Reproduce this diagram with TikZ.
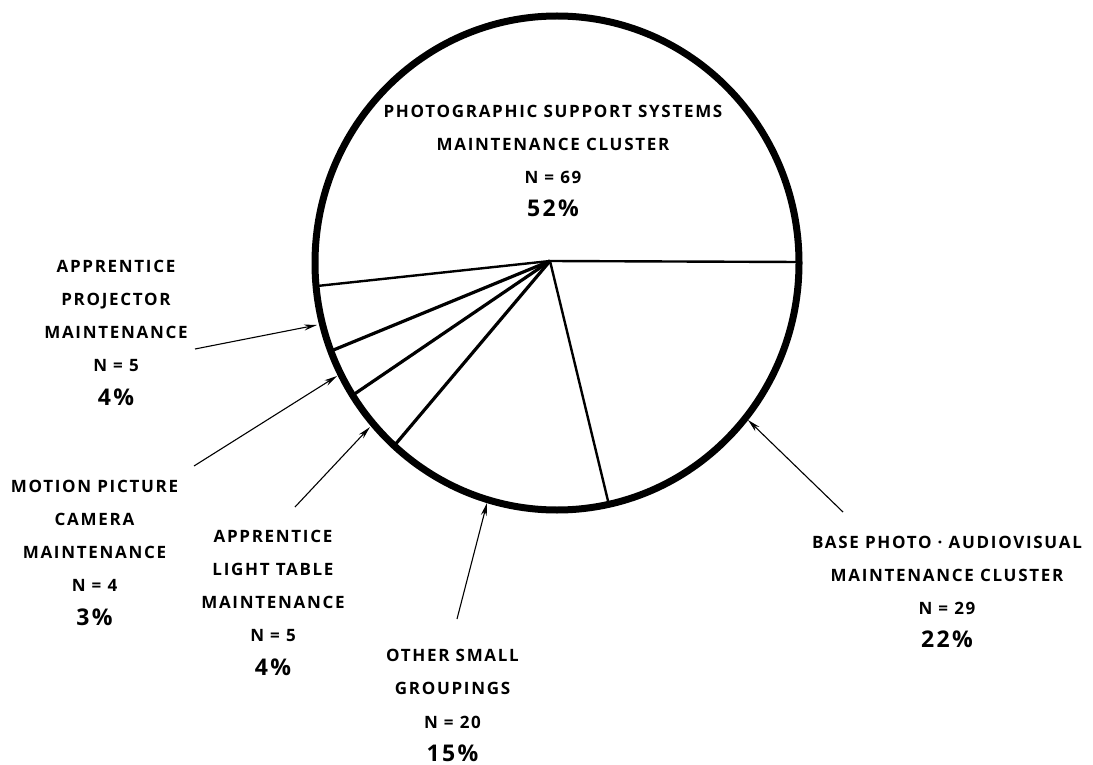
\documentclass[tikz,border=0pt]{standalone}
\usepackage{fontspec}
\setmainfont{Open Sans}[LetterSpace=10]
\usetikzlibrary{arrows.meta}
\newcommand\pctline[1]{{\fontsize{23}{33.3}\selectfont #1}}

\begin{document}
\begin{tikzpicture}[
        x=1pt, y=-1pt,
        every node/.style={font=\fontsize{17}{33.3}\selectfont\bfseries},
        rim/.style={
          draw=black, line width=7pt,
        },
        spoke/.style={
          draw=black, line width=3.2pt,
        },
        thinspoke/.style={
          draw=black, line width=2.4pt,
        },
        pointer/.style={
          -{Stealth[length=13pt,width=6pt]}, draw=black, line width=1.1pt,
        },
        label/.style={
          align=center, anchor=north, inner sep=0pt,
        },
      ]
      \useasboundingbox (0,0) rectangle (1093,765);

      % pie
      \coordinate (ctr) at (557,263);
      \coordinate (hub) at (550,261);
      \coordinate (sBase) at (799,262);
      \coordinate (sOther) at (609,505);
      \coordinate (sLight) at (394,446);
      \coordinate (sCam) at (353,395);
      \coordinate (sProj) at (331,351);
      \coordinate (sPhoto) at (317,286);

      \draw[thinspoke] (hub) -- (sBase);
      \draw[thinspoke] (hub) -- (sOther);
      \draw[spoke] (hub) -- (sLight);
      \draw[spoke] (hub) -- (sCam);
      \draw[spoke] (hub) -- (sProj);
      \draw[thinspoke] (hub) -- (sPhoto);
      \draw[rim] (ctr) ellipse [x radius=242pt, y radius=247pt];

      % labels
      \node[label] (photo) at (553,104.5)
        {PHOTOGRAPHIC SUPPORT SYSTEMS\\MAINTENANCE CLUSTER\\N = 69\\\pctline{52\%}};
      \node[label] (proj) at (116,259.5)
        {APPRENTICE\\PROJECTOR\\MAINTENANCE\\N = 5\\\pctline{4\%}};
      \node[label] (cam) at (94.5,479.5)
        {MOTION PICTURE\\CAMERA\\MAINTENANCE\\N = 4\\\pctline{3\%}};
      \node[label] (light) at (273,529.5)
        {APPRENTICE\\LIGHT TABLE\\MAINTENANCE\\N = 5\\\pctline{4\%}};
      \node[label] (other) at (452.5,649)
        {OTHER SMALL\\GROUPINGS\\N = 20\\\pctline{15\%}};
      \node[label] (base) at (947,535.5)
        {BASE PHOTO · AUDIOVISUAL\\MAINTENANCE CLUSTER\\N = 29\\\pctline{22\%}};

      % pointers
      \coordinate (projTail) at (195,349);
      \coordinate (projTip) at (317,325);
      \coordinate (camTail) at (194,466);
      \coordinate (camTip) at (337,376);
      \coordinate (lightTail) at (295,507);
      \coordinate (lightTip) at (370,427);
      \coordinate (otherTail) at (457,619);
      \coordinate (otherTip) at (487,503);
      \coordinate (baseTail) at (843,512);
      \coordinate (baseTip) at (748,420);

      \draw[pointer] (projTail) -- (projTip);
      \draw[pointer] (camTail) -- (camTip);
      \draw[pointer] (lightTail) -- (lightTip);
      \draw[pointer] (otherTail) -- (otherTip);
      \draw[pointer] (baseTail) -- (baseTip);
    \end{tikzpicture}
\end{document}
